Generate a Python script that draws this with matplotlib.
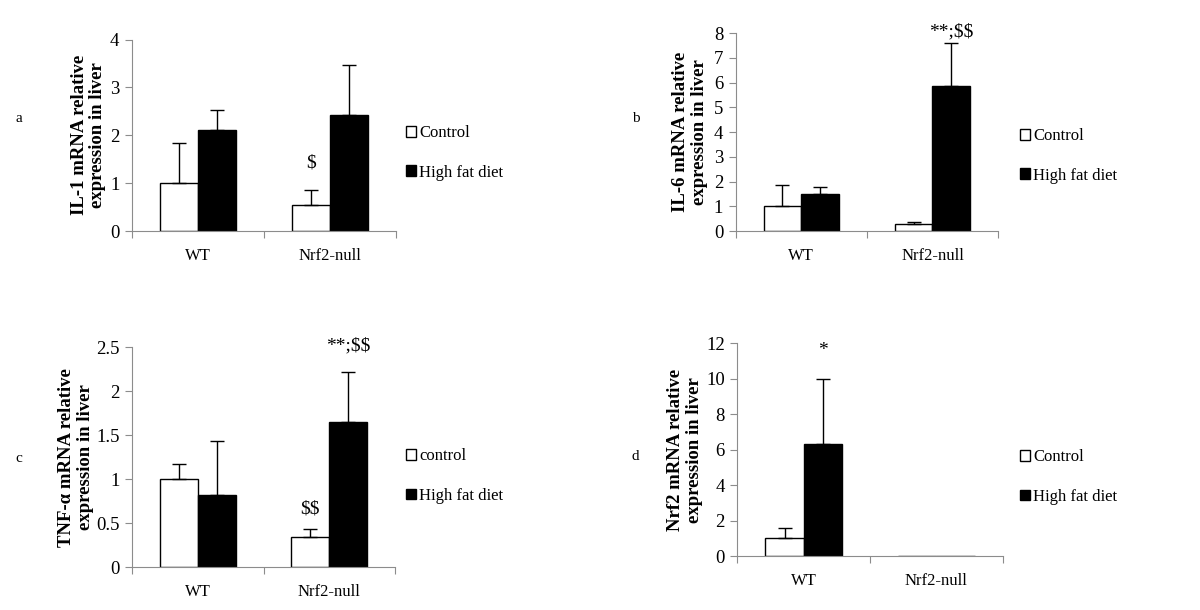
import numpy as np
import matplotlib.pyplot as plt
from matplotlib.patches import Patch

plt.rcParams['font.family'] = ['Liberation Serif', 'DejaVu Serif']

groups = ['WT', 'Nrf2-null']

# panel a: IL-1
il1_ctrl = [1.0, 0.55]
il1_ctrl_top = [1.83, 0.85]
il1_hfd = [2.1, 2.42]
il1_hfd_top = [2.52, 3.47]

# panel b: IL-6
il6_ctrl = [1.0, 0.28]
il6_ctrl_top = [1.85, 0.38]
il6_hfd = [1.5, 5.85]
il6_hfd_top = [1.78, 7.6]

# panel c: TNF-alpha
tnf_ctrl = [1.0, 0.34]
tnf_ctrl_top = [1.17, 0.43]
tnf_hfd = [0.82, 1.65]
tnf_hfd_top = [1.44, 2.22]

# panel d: Nrf2
nrf_ctrl = [1.0, 0.0]
nrf_ctrl_top = [1.6, 0.0]
nrf_hfd = [6.3, 0.0]
nrf_hfd_top = [9.97, 0.0]

panels = [
    dict(rect=[0.11, 0.6213, 0.22, 0.3139], ymax=4, step=1,
         ylabel='IL-1 mRNA relative\nexpression in liver', ylab_x=-0.165,
         ctrl=il1_ctrl, ctrl_top=il1_ctrl_top, hfd=il1_hfd, hfd_top=il1_hfd_top,
         marks=[(1, 'c', 1.25, '$')],
         letter=('a', 15, 119), legend=(404, 153), ctrl_name='Control'),
    dict(rect=[0.6131, 0.6213, 0.2186, 0.3246], ymax=8, step=1,
         ylabel='IL-6 mRNA relative\nexpression in liver', ylab_x=-0.174,
         ctrl=il6_ctrl, ctrl_top=il6_ctrl_top, hfd=il6_hfd, hfd_top=il6_hfd_top,
         marks=[(1, 'h', 7.7, '**;$$')],
         letter=('b', 632, 119), legend=(1018, 156), ctrl_name='Control'),
    dict(rect=[0.11, 0.07, 0.2192, 0.3607], ymax=2.5, step=0.5,
         ylabel='TNF-α mRNA relative\nexpression in liver', ylab_x=-0.213,
         ctrl=tnf_ctrl, ctrl_top=tnf_ctrl_top, hfd=tnf_hfd, hfd_top=tnf_hfd_top,
         marks=[(1, 'c', 0.57, '$$'), (1, 'h', 2.42, '**;$$')],
         letter=('c', 15, 458), legend=(404, 476), ctrl_name='control'),
    dict(rect=[0.6144, 0.0885, 0.2212, 0.3487], ymax=12, step=2,
         ylabel='Nrf2 mRNA relative\nexpression in liver', ylab_x=-0.197,
         ctrl=nrf_ctrl, ctrl_top=nrf_ctrl_top, hfd=nrf_hfd, hfd_top=nrf_hfd_top,
         marks=[(0, 'h', 11.1, '*')],
         letter=('d', 632, 457), legend=(1018, 477), ctrl_name='Control'),
]

W, H = 1200, 610
fig = plt.figure(figsize=(12, 6.1), dpi=100)
axis_grey = '#8c8c8c'
bw = 0.288
x = np.arange(len(groups)) + 0.5

for p in panels:
    ax = fig.add_axes(p['rect'])
    up_c = np.array(p['ctrl_top']) - np.array(p['ctrl'])
    up_h = np.array(p['hfd_top']) - np.array(p['hfd'])
    ax.bar(x - bw / 2, p['ctrl'], bw, color='white', edgecolor='black', linewidth=1)
    ax.bar(x + bw / 2, p['hfd'], bw, color='black', edgecolor='black', linewidth=1)
    show = np.array(p['ctrl_top']) > 0
    ax.errorbar((x - bw / 2)[show], np.array(p['ctrl'])[show],
                yerr=[np.zeros(show.sum()), up_c[show]], fmt='none',
                ecolor='black', elinewidth=1, capsize=5)
    show = np.array(p['hfd_top']) > 0
    ax.errorbar((x + bw / 2)[show], np.array(p['hfd'])[show],
                yerr=[np.zeros(show.sum()), up_h[show]], fmt='none',
                ecolor='black', elinewidth=1, capsize=5)

    for gi, which, yv, txt in p['marks']:
        xx = x[gi] - bw / 2 if which == 'c' else x[gi] + bw / 2
        ax.text(xx, yv, txt, ha='center', va='bottom', fontsize=14, parse_math=False)

    ax.set_xlim(0, 2)
    ax.set_ylim(0, p['ymax'])
    yt = np.arange(0, p['ymax'] + p['step'] / 2, p['step'])
    ax.set_yticks(yt)
    ax.set_yticklabels(['{:g}'.format(v) for v in yt], fontsize=13.5)
    ax.set_xticks([0, 1, 2])
    ax.set_xticklabels([])
    ax.set_xticks(x, minor=True)
    ax.set_xticklabels(groups, minor=True, fontsize=12)
    ax.tick_params(axis='x', which='minor', length=0, pad=12)
    ax.tick_params(axis='x', which='major', length=5, direction='out', color=axis_grey)
    ax.tick_params(axis='y', length=5, direction='out', color=axis_grey, pad=4)
    for s in ['top', 'right']:
        ax.spines[s].set_visible(False)
    for s in ['left', 'bottom']:
        ax.spines[s].set_color(axis_grey)
    ax.set_ylabel(p['ylabel'], fontsize=13.5, fontweight='bold',
                  linespacing=1.1, va='center')
    ax.yaxis.set_label_coords(p['ylab_x'], 0.5)

    ltr, lx, ly = p['letter']
    fig.text(lx / W, 1 - ly / H, ltr, fontsize=11, ha='left', va='center')

    handles = [Patch(facecolor='white', edgecolor='black', linewidth=1),
               Patch(facecolor='black', edgecolor='black', linewidth=1)]
    lx, ly = p['legend']
    fig.legend(handles, [p['ctrl_name'], 'High fat diet'], loc='center left',
               bbox_to_anchor=(lx / W - 0.004, 1 - ly / H), frameon=False,
               fontsize=12, handlelength=0.6, handleheight=0.6,
               handletextpad=0.2, labelspacing=1.4, borderaxespad=0)

fig.savefig('out.png', dpi=100)
